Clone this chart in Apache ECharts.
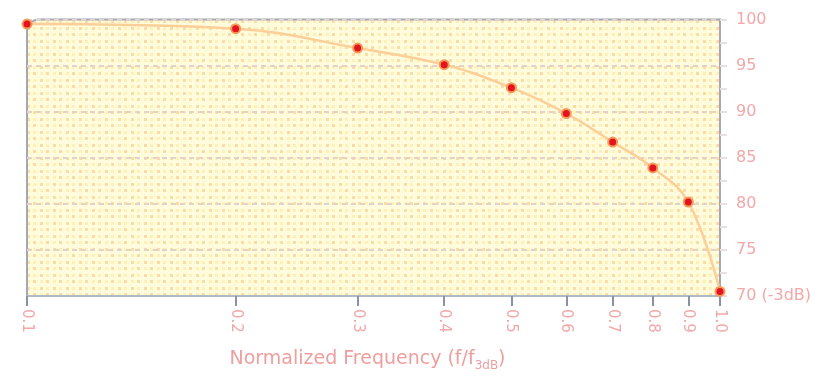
<!DOCTYPE html>
<html>
<head>
<meta charset="utf-8">
<script src="https://cdn.jsdelivr.net/npm/echarts@6/dist/echarts.min.js"></script>
<style>
html,body{margin:0;padding:0;background:#fff;}
#chart{width:829px;height:377px;}
</style>
</head>
<body>
<div id="chart"></div>
<script>
// Data
var freqs = [0.1, 0.2, 0.3, 0.4, 0.5, 0.6, 0.7, 0.8, 0.9, 1.0];
var amplitude = [99.5, 99.0, 96.9, 95.1, 92.6, 89.8, 86.7, 83.9, 80.2, 70.5];
var xTicks = [0.1, 0.2, 0.3, 0.4, 0.5, 0.6, 0.7, 0.8, 0.9, 1.0];
var yTicks = [70, 75, 80, 85, 90, 95, 100];

var W = 829, H = 377;
var G = {left: 27, top: 19.5, right: 109, bottom: 81};

// dotted background pattern
var tile = document.createElement('canvas');
tile.width = 13; tile.height = 13;
var c = tile.getContext('2d');
c.fillStyle = '#FFFBDD'; c.fillRect(0, 0, 13, 13);
c.fillStyle = '#FDDCA3'; c.fillRect(1, 1, 3, 3); c.fillRect(7, 7, 3, 3);
c.fillStyle = '#FFF1B4'; c.fillRect(7, 1, 3, 3); c.fillRect(1, 7, 3, 3);

var labelColor = '#F2A8A8';
var chart = echarts.init(document.getElementById('chart'), null, {renderer: 'canvas'});
var option = {
  animation: false,
  backgroundColor: '#ffffff',
  grid: {left: G.left, top: G.top, right: G.right, bottom: G.bottom, containLabel: false},
  graphic: [{
    type: 'rect', z: -10, silent: true,
    shape: {x: G.left, y: G.top, width: W - G.left - G.right, height: H - G.top - G.bottom, r: [12, 0, 0, 0]},
    style: {fill: {image: tile, repeat: 'repeat'}, stroke: '#A4A8B6', lineWidth: 2}
  }],
  xAxis: {
    type: 'log', logBase: 10, min: 0.1, max: 1.0,
    axisLine: {show: true, lineStyle: {color: '#AFBAC6', width: 2}},
    axisTick: {show: true, customValues: xTicks, length: 10, lineStyle: {color: '#8893A6', width: 2}},
    minorTick: {show: false},
    splitLine: {show: false},
    axisLabel: {
      customValues: xTicks, rotate: -90, margin: 13,
      color: labelColor, fontFamily: 'DejaVu Sans', fontSize: 15,
      formatter: function (v) { return Number(v).toFixed(1); }
    },
    name: '{a|Normalized Frequency (f/f}{b|3dB}{a|)}',
    nameLocation: 'middle', nameGap: 50,
    nameTextStyle: {
      padding: [0, 12, 0, 0],
      rich: {
        a: {fontFamily: 'DejaVu Sans', fontSize: 19, color: '#EF9E9E', lineHeight: 26, verticalAlign: 'middle'},
        b: {fontFamily: 'DejaVu Sans', fontSize: 12, color: '#EF9E9E', lineHeight: 14, verticalAlign: 'bottom'}
      }
    }
  },
  yAxis: {
    type: 'value', position: 'right', min: 70, max: 100, interval: 5,
    axisLine: {show: true, lineStyle: {color: '#A4A8B6', width: 2}},
    axisTick: {show: true, length: 7, lineStyle: {color: '#E6E0E0', width: 2}},
    minorTick: {show: true, splitNumber: 2, length: 7, lineStyle: {color: '#E6E0E0', width: 2}},
    splitLine: {show: true, lineStyle: {color: '#E2D2CC', width: 2, type: [5, 4]}},
    axisLabel: {
      margin: 16, color: labelColor, fontFamily: 'DejaVu Sans', fontSize: 16,
      formatter: function (v) { return v === 70 ? '70 (-3dB)' : String(v); }
    }
  },
  series: [{
    type: 'line',
    data: freqs.map(function (f, i) { return [f, amplitude[i]]; }),
    smooth: 0.4,
    clip: false,
    lineStyle: {color: '#FCCE98', width: 2.5},
    symbol: 'circle', symbolSize: 9,
    itemStyle: {color: '#E4141E', borderColor: '#F39A5C', borderWidth: 2},
    z: 5
  }]
};
chart.setOption(option);
</script>
</body>
</html>
